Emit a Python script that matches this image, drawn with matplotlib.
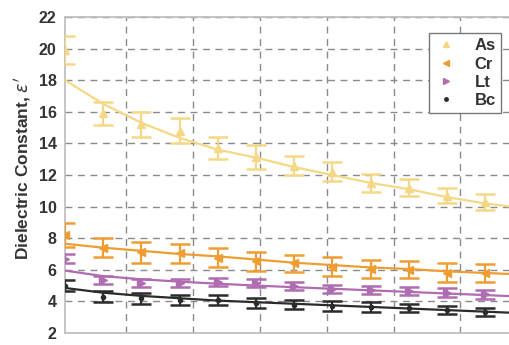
import numpy as np
import matplotlib
matplotlib.use('Agg')
import matplotlib.pyplot as plt
from matplotlib.lines import Line2D

plt.rcParams['font.family'] = ['Liberation Sans', 'DejaVu Sans']

# point number along the (cropped) x axis
x_pts = np.arange(12)
x_fit = np.arange(13)                       # fit curves run on past the last point
x_grid = [1.6, 3.35, 5.1, 6.85, 8.6, 10.35]  # vertical grid lines (labels cropped away)

labels = ['As', 'Cr', 'Lt', 'Bc']

as_val = [19.9, 15.9, 15.2, 14.8, 13.7, 13.15, 12.6, 12.2, 11.5, 11.2, 10.7, 10.3]
as_err = [0.9, 0.75, 0.8, 0.8, 0.7, 0.75, 0.6, 0.6, 0.55, 0.55, 0.5, 0.5]
as_fit = [18.0, 16.5, 15.3, 14.35, 13.6, 13.1, 12.5, 12.0, 11.5, 11.1, 10.6, 10.2, 9.9]

cr_val = [8.2, 7.4, 7.1, 7.05, 6.75, 6.55, 6.4, 6.2, 6.05, 6.0, 5.8, 5.8]
cr_err = [0.75, 0.6, 0.65, 0.6, 0.6, 0.6, 0.55, 0.6, 0.6, 0.55, 0.6, 0.55]
cr_fit = [7.65, 7.4, 7.2, 7.0, 6.85, 6.65, 6.45, 6.3, 6.15, 6.05, 5.9, 5.8, 5.7]

lt_val = [6.7, 5.35, 5.15, 5.15, 5.2, 5.15, 5.0, 4.8, 4.7, 4.65, 4.55, 4.45]
lt_err = [0.3, 0.25, 0.25, 0.25, 0.25, 0.25, 0.25, 0.25, 0.25, 0.25, 0.3, 0.3]
lt_fit = [5.95, 5.6, 5.4, 5.25, 5.12, 5.0, 4.9, 4.8, 4.7, 4.6, 4.5, 4.4, 4.3]

bc_val = [5.0, 4.3, 4.2, 4.1, 4.1, 3.9, 3.8, 3.7, 3.65, 3.6, 3.45, 3.35]
bc_err = [0.35, 0.35, 0.35, 0.3, 0.3, 0.3, 0.3, 0.3, 0.3, 0.25, 0.25, 0.25]
bc_fit = [4.85, 4.55, 4.35, 4.2, 4.05, 3.95, 3.85, 3.75, 3.65, 3.55, 3.45, 3.35, 3.25]

colors = ['#f5d886', '#ef9d33', '#b06cb0', '#2b2b2b']
markers = ['^', '<', '>', '.']

fig = plt.figure(figsize=(5.1, 3.45), dpi=100)
ax = fig.add_axes([65 / 510, 12 / 345, 465 / 510, 316 / 345])

series = [(as_val, as_err, as_fit), (cr_val, cr_err, cr_fit),
          (lt_val, lt_err, lt_fit), (bc_val, bc_err, bc_fit)]
for (val, err, fit), c, m in zip(series, colors, markers):
    ax.plot(x_fit, fit, color=c, linewidth=1.6, zorder=3)
    ax.errorbar(x_pts, val, yerr=err, fmt=m, color=c, ms=6, capsize=7,
                elinewidth=1.6, capthick=1.8, zorder=4)

ax.set_xlim(0, 465 / 38.2)
ax.set_ylim(2, 22)
ax.set_yticks(range(2, 23, 2))
ax.set_xticks(x_grid)
ax.set_xticklabels([])
ax.tick_params(axis='both', length=0, pad=6)
ax.tick_params(axis='y', labelsize=11.5, labelcolor='#333333')
for t in ax.get_yticklabels():
    t.set_fontweight('bold')
ax.grid(True, color='#8a8a8a', linestyle=(0, (5, 4)), linewidth=1.0)
for s in ax.spines.values():
    s.set_color('#bbbbbb')
    s.set_linewidth(1.2)

ax.set_ylabel("Dielectric Constant, $\\epsilon'$", fontsize=12.5, fontweight='bold',
              color='#333333')
ax.yaxis.set_label_coords(-0.068, 0.52)

handles = [Line2D([], [], linestyle='none', marker=m, color=c, ms=5)
           for m, c in zip(markers, colors)]
leg = ax.legend(handles, labels, loc='upper right', bbox_to_anchor=(0.955, 0.975),
                frameon=True, fancybox=False, framealpha=1, edgecolor='#777777',
                prop={'weight': 'bold', 'size': 12}, handletextpad=1.0,
                handlelength=1.4, labelspacing=0.2, borderpad=0.3)
for t in leg.get_texts():
    t.set_color('#333333')

plt.savefig('out.png', dpi=100)
